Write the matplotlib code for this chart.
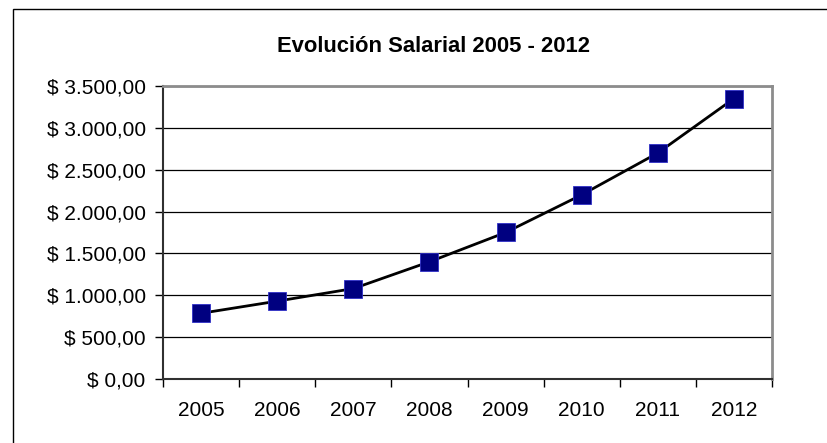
import matplotlib
matplotlib.use("Agg")
import matplotlib.pyplot as plt
from matplotlib.patches import Rectangle
from matplotlib.ticker import FuncFormatter, FixedLocator

years = ["2005", "2006", "2007", "2008", "2009", "2010", "2011", "2012"]
salaries = [785, 930, 1080, 1400, 1750, 2200, 2700, 3350]
y_ticks = [0, 500, 1000, 1500, 2000, 2500, 3000, 3500]
title = "Evolución Salarial 2005 - 2012"

plt.rcParams['font.family'] = ['Liberation Sans', 'DejaVu Sans']

W, H = 827, 443
fig = plt.figure(figsize=(W / 100, H / 100), dpi=100)
fig.patch.set_facecolor("white")

# outer chart border (only top/left visible in reference)
fig.patches.append(Rectangle((12.5 / W, -0.1), 1.2, (H - 8.5) / H + 0.1,
                             transform=fig.transFigure, fill=False,
                             edgecolor="black", linewidth=1.0, clip_on=False))

ax = fig.add_axes([163 / W, (H - 379) / H, (772 - 163) / W, (379 - 86) / H])
x = list(range(len(years)))
ax.plot(x, salaries, color="black", linewidth=2.0, zorder=3,
        marker="s", markersize=12.3, markerfacecolor="#000080",
        markeredgecolor="#3030c8", markeredgewidth=0.6)

ax.set_xlim(-0.5, len(years) - 0.5)
ax.set_ylim(0, 3500)
ax.set_xticks(x)
ax.set_xticklabels(years)
ax.xaxis.set_minor_locator(FixedLocator([i - 0.5 for i in range(len(years) + 1)]))
ax.tick_params(axis="x", which="major", length=0, pad=15.5, labelsize=15)
ax.tick_params(axis="x", which="minor", length=6, width=1.0, color="black", direction="out")

def fmt(v, pos):
    s = f"{v:,.2f}".replace(",", "X").replace(".", ",").replace("X", ".")
    return "$ " + s

ax.set_yticks(y_ticks)
ax.yaxis.set_major_formatter(FuncFormatter(fmt))
ax.tick_params(axis="y", length=6, width=1.0, color="black", direction="out",
               pad=6.5, labelsize=15)

ax.grid(axis="y", color="black", linewidth=0.9)
ax.set_axisbelow(True)

for s in ("top", "right"):
    ax.spines[s].set_color("#8c8c8c")
    ax.spines[s].set_linewidth(2.0)
for s in ("left", "bottom"):
    ax.spines[s].set_color("#303030")
    ax.spines[s].set_linewidth(1.5)

fig.text(434 / W, 1 - 47 / H, title, ha="center", va="center",
         fontsize=15.8, fontweight="bold")

fig.savefig("out.png", dpi=100, facecolor="white")
